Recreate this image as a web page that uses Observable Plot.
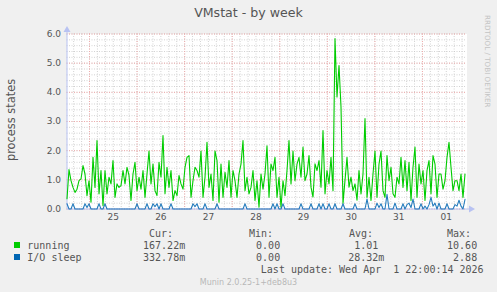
<!DOCTYPE html>
<html><head><meta charset="utf-8">
<script src="https://cdn.jsdelivr.net/npm/d3@7"></script>
<script src="https://cdn.jsdelivr.net/npm/@observablehq/plot@0.6"></script>
<style>
html,body{margin:0;padding:0;background:#f0f0f0;}
#wrap{position:relative;width:497px;height:292px;background:#f0f0f0;overflow:hidden;}
#chart{position:absolute;left:0;top:0;}
#overlay{position:absolute;left:0;top:0;pointer-events:none;}
</style></head><body>
<div id="wrap"><div id="chart"></div></div>
<script>
// ---- data ----
const title = "VMstat - by week";
const yLabel = "process states";
const watermark = "RRDTOOL / TOBI OETIKER";
const seriesNames = ["running", "I/O sleep"];
const seriesColors = ["#00cc00", "#0066b3"];
const legendHeaders = ["Cur:", "Min:", "Avg:", "Max:"];
const curVals = ["167.22m", "332.78m"];
const minVals = ["0.00", "0.00"];
const avgVals = ["1.01", "28.32m"];
const maxVals = ["10.60", "2.88"];
const lastUpdate = "Last update: Wed Apr  1 22:00:14 2026";
const version = "Munin 2.0.25-1+deb8u3";
const yTicks = [0, 1, 2, 3, 4, 5, 6];
const dayLabels = ["25", "26", "27", "28", "29", "30", "31", "01"];
const periodStart = "2026-03-24T12:39:00Z";
const periodEnd = "2026-04-01T22:28:00Z";

// running processes, one sample per ~hour across the window
const running = [
  0.35,1.35,0.97,0.74,0.57,0.68,0.97,1.03,1.49,1.20,
  0.46,0.97,0.23,1.77,0.74,2.35,0.52,1.32,0.11,1.32,
  0.52,1.09,0.86,1.66,0.40,0.86,0.74,0.80,1.32,0.86,
  1.43,1.15,0.29,1.20,1.60,0.63,1.09,0.68,1.32,0.40,
  1.20,1.99,0.86,1.54,0.63,0.46,1.60,1.09,2.52,0.52,
  1.43,0.74,1.32,0.29,0.63,0.46,1.15,0.86,0.68,1.43,
  1.77,1.83,0.40,0.97,1.43,1.32,1.09,1.99,0.40,1.09,
  2.29,0.74,1.20,0.29,1.99,1.66,0.23,1.54,0.40,1.26,
  0.74,1.66,0.40,1.32,0.97,0.40,1.20,1.54,2.35,0.63,
  1.09,0.52,0.74,1.32,0.29,0.97,0.06,1.20,0.68,1.20,
  2.17,0.40,1.54,1.32,1.77,0.40,1.09,0.06,0.97,0.46,
  1.32,2.35,0.86,1.99,0.97,1.54,1.77,1.09,2.12,0.97,
  1.20,1.83,0.75,0.41,1.55,1.32,1.66,0.75,2.69,0.52,
  1.32,0.86,1.77,0.63,5.84,3.84,4.92,3.50,0.20,0.98,
  1.77,0.75,1.09,0.63,0.86,0.30,1.32,0.52,1.20,3.10,
  0.40,1.09,0.29,1.20,1.99,0.40,1.54,1.99,0.63,0.40,
  1.83,0.97,1.43,0.52,0.40,1.09,0.86,1.77,0.74,1.66,
  0.63,1.60,0.29,1.43,2.12,0.40,1.54,0.86,1.32,0.29,
  1.32,1.66,0.52,1.83,1.54,0.40,1.20,1.20,0.68,0.97,
  1.77,2.29,1.43,0.63,0.97,0.97,0.63,1.20,0.40,1.20
];
// I/O sleep processes, same sampling
const ioSleep = [
  .18,0,0,.18,0,0,0,0,0,.18,.05,.18,0,0,0,0,.18,0,0,.18,
  0,0,0,0,0,0,0,0,0,0,0,0,0,0,0,.18,0,0,0,0,
  .18,0,0,.18,.08,.18,0,.18,0,0,0,0,.18,0,0,0,0,0,0,0,
  0,0,0,.18,.08,.18,0,0,0,.18,0,0,0,0,0,.18,0,0,0,0,
  0,0,0,0,0,0,0,0,0,.18,0,0,0,0,0,0,0,0,0,0,
  0,0,0,.18,0,.18,0,0,.18,0,0,0,0,0,0,0,0,.18,0,0,
  0,0,.18,0,0,0,.18,0,.18,0,0,.18,0,0,.18,0,0,0,.18,0,
  0,0,0,0,.18,0,0,0,0,0,.34,0,0,0,0,.2,.05,.18,0,0,
  .5,0,0,0,.2,0,0,0,.18,0,.15,.2,.05,.34,0,0,0,.18,0,.1,
  0,.15,.4,.1,.2,0,.2,0,0,0,.18,0,0,0,.15,.1,.3,.1,0,.33
];

// ---- build ----
const start = new Date(periodStart), end = new Date(periodEnd);
const step = (end - start) / running.length;
const data = running.map((v, i) => ({t: new Date(+start + i * step), running: v, io: ioSleep[i]}));

const midnights = d3.utcDay.range(start, end);
const noons = midnights.map(d => d3.utcHour.offset(d, 12));
const minorX = d3.utcHour.every(4).range(start, end);
const minorY = d3.ticks(0, 6, 30);

const axisColor = "#b8c2f2";
const W = 497, H = 225, mL = 66.5, mR = 30.5, mT = 33.5, mB = 16.5;
const pxPerUnit = (H - mT - mB) / 6;
const yTop = 6 + 4 / pxPerUnit;
const msPerPx = (end - start) / (W - mL - mR);
const xArrow = new Date(+end + 4 * msPerPx);

const chart = Plot.plot({
  width: W, height: H,
  marginLeft: mL, marginRight: mR, marginTop: mT, marginBottom: mB,
  style: {background: "transparent", fontFamily: "DejaVu Sans", fontSize: "9px", color: "#555", overflow: "visible"},
  x: {type: "utc", domain: [start, end], ticks: noons,
      tickFormat: d => dayLabels[noons.findIndex(n => +n === +d)],
      tickSize: 0, tickPadding: 5, label: null},
  y: {domain: [0, 6], ticks: yTicks, tickFormat: d3.format(".1f"), tickSize: 0, tickPadding: 6, label: null},
  marks: [
    Plot.frame({fill: "white", stroke: "none"}),
    Plot.ruleY(minorY, {stroke: "#c8c8c8", strokeWidth: 0.8, strokeDasharray: "1,1.5"}),
    Plot.ruleX(minorX, {stroke: "#c8c8c8", strokeWidth: 0.8, strokeDasharray: "1,1.5"}),
    Plot.ruleY(yTicks, {stroke: "#f3a6a6", strokeWidth: 0.9, strokeDasharray: "1,1.5"}),
    Plot.ruleX(midnights, {stroke: "#f3a6a6", strokeWidth: 0.9, strokeDasharray: "1,1.5"}),
    Plot.ruleX([start], {y1: 0, y2: yTop, stroke: axisColor}),
    Plot.ruleY([0], {x1: start, x2: xArrow, stroke: axisColor}),
    Plot.dot([start], {x: d => d, y: yTop, symbol: "triangle", r: 2.6, fill: axisColor, stroke: "none"}),
    Plot.dot([xArrow], {x: d => d, y: 0, symbol: "triangle", rotate: 90, r: 2.6, fill: axisColor, stroke: "none"}),
    Plot.lineY(data, {x: "t", y: "running", stroke: seriesColors[0], strokeWidth: 1.1}),
    Plot.lineY(data, {x: "t", y: "io", stroke: seriesColors[1], strokeWidth: 1.1, strokeOpacity: 0.85})
  ]
});
document.getElementById("chart").appendChild(chart);

// ---- texts and legend ----
const svg = d3.select("#wrap").append("svg").attr("id", "overlay").attr("width", 497).attr("height", 292);
const sans = "'DejaVu Sans', sans-serif";
const mono = "'DejaVu Sans Mono', monospace";
const txt = "#555";

svg.append("text").attr("x", 248.5).attr("y", 16.5).attr("text-anchor", "middle")
  .style("font-family", sans).style("font-size", "12.6px").attr("fill", txt).text(title);
svg.append("text").attr("transform", "translate(485,15) rotate(90)")
  .style("font-family", sans).style("font-size", "7.2px").attr("fill", "#c4c4c4").text(watermark);
svg.append("text").attr("transform", "translate(14.5,120) rotate(-90)").attr("text-anchor", "middle")
  .style("font-family", sans).style("font-size", "11.4px").attr("fill", txt).text(yLabel);

const headX = [149, 249, 349, 447];
const colEnd = [185.2, 286.2, 384.4, 483.2];
const rowY = [249.3, 261.3];
const cols = [curVals, minVals, avgVals, maxVals];
legendHeaders.forEach((h, c) => {
  svg.append("text").attr("x", headX[c]).attr("y", 237.2)
    .style("font-family", mono).style("font-size", "10px").attr("fill", txt).text(h);
});
seriesNames.forEach((name, r) => {
  svg.append("rect").attr("x", 14).attr("y", rowY[r] - 7.3).attr("width", 6).attr("height", 6).attr("fill", seriesColors[r]);
  svg.append("text").attr("x", 27.3).attr("y", rowY[r])
    .style("font-family", mono).style("font-size", "10px").attr("fill", txt).text(name);
  cols.forEach((vals, c) => {
    const v = vals[r];
    svg.append("text").attr("x", colEnd[c]).attr("y", rowY[r]).attr("text-anchor", "end")
      .attr("xml:space", "preserve").style("white-space", "pre")
      .style("font-family", mono).style("font-size", "10px").attr("fill", txt)
      .text(/[a-zA-Z]$/.test(v) ? v : v + "\u00a0");
  });
});
svg.append("text").attr("x", 483.6).attr("y", 273.3).attr("text-anchor", "end")
  .style("white-space", "pre").style("font-family", mono).style("font-size", "10px").attr("fill", txt).text(lastUpdate);
svg.append("text").attr("x", 248.5).attr("y", 284.8).attr("text-anchor", "middle")
  .style("font-family", sans).style("font-size", "8px").attr("fill", "#b8b8b8").text(version);
</script>
</body></html>
